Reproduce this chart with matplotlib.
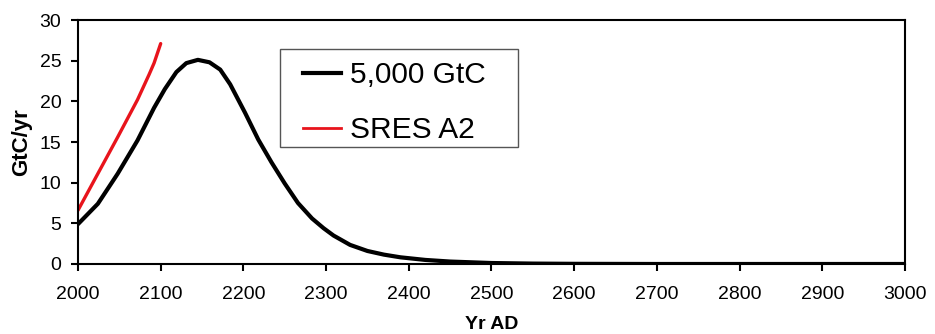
import matplotlib
matplotlib.use('Agg')
import matplotlib.pyplot as plt
from matplotlib.lines import Line2D
from matplotlib.patches import Rectangle

plt.rcParams['font.family'] = ['Liberation Sans', 'DejaVu Sans']

# 5,000 GtC emission pulse
years_5000 = [2000, 2024, 2048, 2072, 2092, 2105, 2119, 2131, 2145, 2159, 2172, 2184, 2202,
              2218, 2234, 2250, 2266, 2283, 2297, 2309, 2329, 2350, 2370, 2390, 2420, 2450,
              2500, 2550, 2600, 2700, 2800, 2900, 3000]
gtc_5000 = [4.9, 7.4, 11.1, 15.2, 19.2, 21.5, 23.6, 24.7, 25.1, 24.8, 23.9, 22.1, 18.6,
            15.3, 12.5, 9.9, 7.5, 5.6, 4.4, 3.5, 2.35, 1.6, 1.15, 0.82, 0.5, 0.3,
            0.12, 0.05, 0.02, 0.0, 0.0, 0.0, 0.0]

# SRES A2 scenario
years_a2 = [2000, 2024, 2048, 2072, 2086, 2092, 2100]
gtc_a2 = [6.6, 11.1, 15.6, 20.2, 23.3, 24.7, 27.1]

fig = plt.figure(figsize=(9.35, 3.34), dpi=100)
ax = fig.add_axes([0.0834, 0.2096, 0.8845, 0.7305])

ax.plot(years_5000, gtc_5000, color='black', lw=3.0, solid_capstyle='round', solid_joinstyle='round')
ax.plot(years_a2, gtc_a2, color='#e8141c', lw=2.4, solid_capstyle='round', solid_joinstyle='round')

ax.set_xlim(2000, 3000)
ax.set_ylim(0, 30)
ax.set_xticks(range(2000, 3001, 100))
ax.set_yticks(range(0, 31, 5))
for s in ax.spines.values():
    s.set_linewidth(1.5)
ax.tick_params(direction='out', length=5, width=1.5, labelsize=14)
ax.tick_params(axis='x', pad=11)
ax.tick_params(axis='y', pad=7)
ax.set_xlabel('Yr AD', fontsize=14, fontweight='bold', labelpad=9)
ax.set_ylabel('GtC/yr', fontsize=16, fontweight='bold', labelpad=5)

# legend: entries without frame, box drawn separately
handles = [Line2D([], [], color='black', lw=3.0),
           Line2D([], [], color='#e8141c', lw=2.0)]
leg = ax.legend(handles, ['5,000 GtC', 'SRES A2'], loc='upper left',
                bbox_to_anchor=(0.272, 0.83), fontsize=21.5, frameon=False,
                handlelength=1.27, handletextpad=0.3, borderpad=0,
                labelspacing=0.9, borderaxespad=0)
ax.add_patch(Rectangle((0.2443, 0.4795), 0.2877, 0.4015, transform=ax.transAxes,
                       fill=False, edgecolor='#555555', lw=1.0, zorder=5))

fig.savefig('out.png', dpi=100)
